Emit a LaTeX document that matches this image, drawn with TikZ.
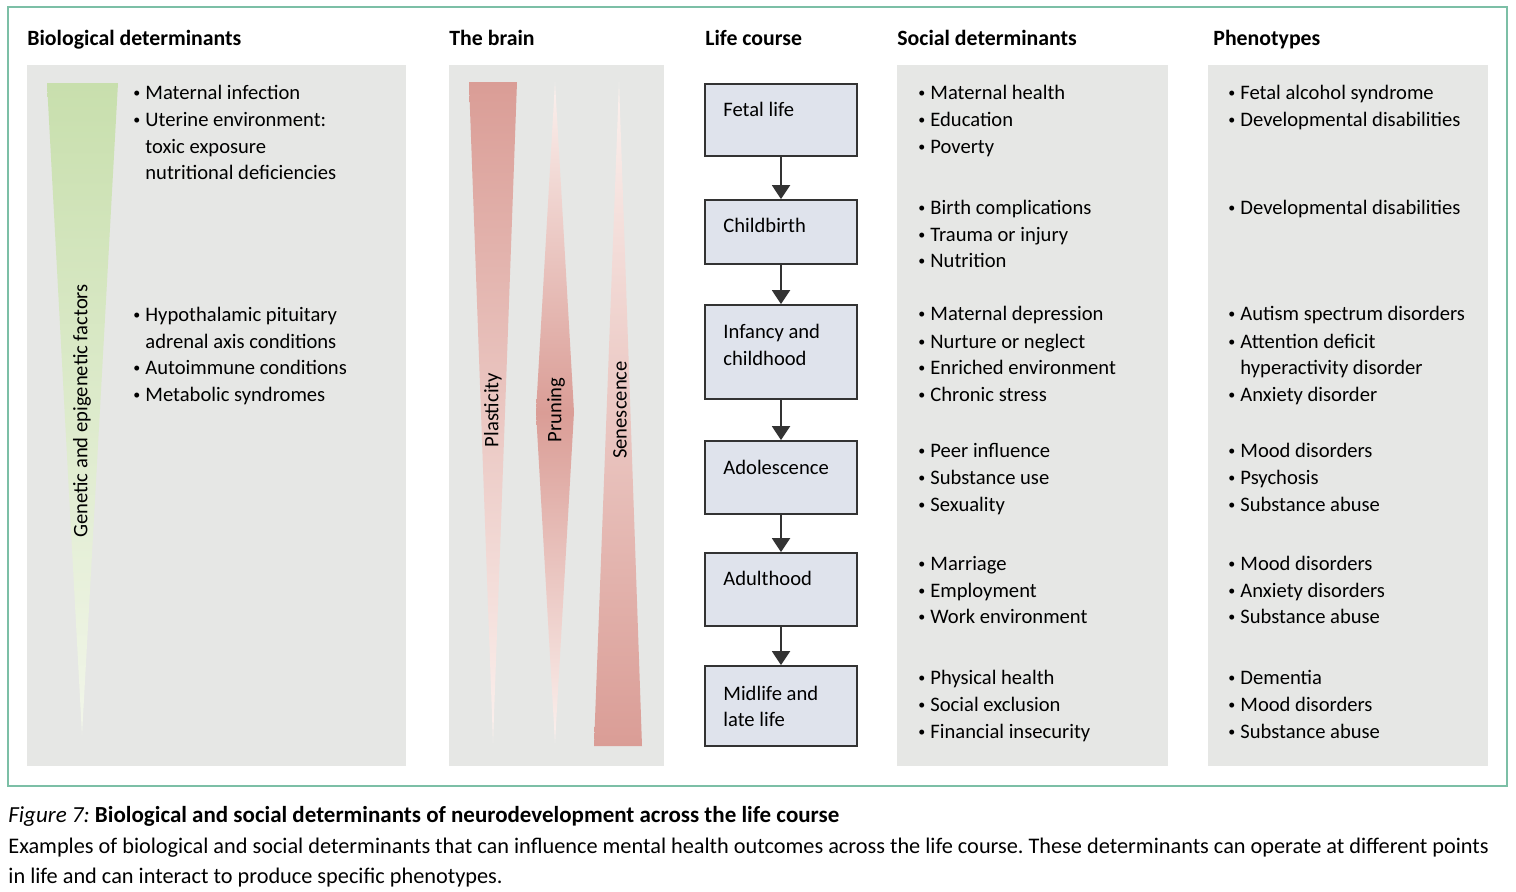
\documentclass[tikz,border=0pt]{standalone}
\usepackage{fontspec}
\setmainfont{Carlito}
\usetikzlibrary{arrows.meta, positioning}
\definecolor{framegreen}{HTML}{7CBFA6}
\definecolor{panelgray}{HTML}{E6E7E5}
\definecolor{boxblue}{HTML}{DFE3EC}
\definecolor{boxedge}{HTML}{333333}
\definecolor{brainred}{HTML}{DA9D96}
\definecolor{brainpale}{HTML}{FBF1EE}
\definecolor{genegreen}{HTML}{C8DFAD}
\definecolor{genepale}{HTML}{F2F6EA}
\newcommand{\bul}{\makebox[0pt][r]{\raisebox{0.6pt}{\fontsize{7}{7}\selectfont\textbullet}\hspace{2.5pt}}}
\frenchspacing
\tikzset{
  lifebox/.style={rectangle, draw=boxedge, fill=boxblue, line width=0.9pt, minimum width=76pt, inner sep=0pt},
  item/.style={anchor=base west, inner sep=0pt, font=\fontsize{10.3}{13}\selectfont},
  head/.style={anchor=base west, inner sep=0pt, font=\fontsize{10.9}{13}\selectfont\bfseries},
  sidelabel/.style={rotate=90, inner sep=0pt, font=\fontsize{10.3}{13}\selectfont},
  flow/.style={-{Triangle[width=9pt,length=7pt]}, line width=1pt, draw=boxedge},
  captxt/.style={anchor=base west, inner sep=0pt, font=\fontsize{11.15}{13}\selectfont},
}

\begin{document}
\begin{tikzpicture}[x=0.5pt, y=-0.5pt]
\useasboundingbox (0,0) rectangle (1516,891);

% Outer frame
\draw[framegreen, line width=1pt] (7.5,6.5) rectangle (1507,785.5);

% Grey panels
\fill[panelgray] (27,65) rectangle (406,766);
\fill[panelgray] (449,65) rectangle (664,766);
\fill[panelgray] (897,65) rectangle (1168,766);
\fill[panelgray] (1208,65) rectangle (1488,766);

% Column headings
\node[head] (hbio) at (27,45) {Biological determinants};
\node[head] (hbrain) at (449,45) {The brain};
\node[head] (hlife) at (705,45) {Life course};
\node[head] (hsoc) at (897,45) {Social determinants};
\node[head] (hpheno) at (1213,45) {Phenotypes};

% Genetic wedge
\shade[top color=genegreen, bottom color=genepale] (47,83) -- (118,83) -- (82,735) -- cycle;
\node[sidelabel] (genetic) at (82,411) {Genetic and epigenetic factors};

% Biological determinants
\foreach \y/\t [count=\i] in {99/\bul Maternal infection, 126/\bul Uterine environment:, 153/toxic exposure, 179/nutritional deficiencies,
  321/\bul Hypothalamic pituitary, 348/adrenal axis conditions, 374/\bul Autoimmune conditions, 401/\bul Metabolic syndromes}
  \node[item] (bio\i) at (145,\y) {\t};

% Brain wedges
\shade[top color=brainred, bottom color=brainpale] (469,82) -- (517,82) -- (493,743) -- cycle;
\shade[top color=brainpale, bottom color=brainpale, middle color=brainred] (555,82) -- (574,412) -- (555,743) -- (536,412) -- cycle;
\shade[top color=brainpale, bottom color=brainred] (619,82) -- (642,746) -- (594,746) -- cycle;
\node[sidelabel] (plast) at (493,410) {Plasticity};
\node[sidelabel] (prune) at (556,410) {Pruning};
\node[sidelabel] (senes) at (620,410) {Senescence};

% Life course boxes
\node[lifebox, minimum height=36pt] (fetal) at (781,120) {};
\node[lifebox, minimum height=32pt] (birth) at (781,232) {};
\node[lifebox, minimum height=47pt] (infancy) at (781,352) {};
\node[lifebox, minimum height=36.5pt] (adol) at (781,477.5) {};
\node[lifebox, minimum height=36.5pt] (adult) at (781,589.5) {};
\node[lifebox, minimum height=40pt] (midlife) at (781,706) {};
\node[item] (tfetal) at (723,116) {Fetal life};
\node[item] (tbirth) at (723,232) {Childbirth};
\node[item] (tinf) at (723,338) {Infancy and};
\node[item] (tinf2) at (723,365) {childhood};
\node[item] (tadol) at (723,474) {Adolescence};
\node[item] (tadult) at (723,585) {Adulthood};
\node[item] (tmid) at (723,700) {Midlife and};
\node[item] (tmid2) at (723,726) {late life};
\draw[flow] (fetal) -- (birth);
\draw[flow] (birth) -- (infancy);
\draw[flow] (infancy) -- (adol);
\draw[flow] (adol) -- (adult);
\draw[flow] (adult) -- (midlife);

% Social determinants
\foreach \y/\t [count=\i] in {99/Maternal health, 126/Education, 153/Poverty,
  214/Birth complications, 241/Trauma or injury, 267/Nutrition,
  320/Maternal depression, 348/Nurture or neglect, 374/Enriched environment, 401/Chronic stress,
  457/Peer influence, 484/Substance use, 511/Sexuality,
  570/Marriage, 597/Employment, 623/Work environment,
  684/Physical health, 711/Social exclusion, 738/Financial insecurity}
  \node[item] (soc\i) at (930,\y) {\bul \t};

% Phenotypes
\foreach \y/\t [count=\i] in {99/\bul Fetal alcohol syndrome, 126/\bul Developmental disabilities,
  214/\bul Developmental disabilities,
  320/\bul Autism spectrum disorders, 348/\bul Attention deficit, 374/hyperactivity disorder, 401/\bul Anxiety disorder,
  457/\bul Mood disorders, 484/\bul Psychosis, 511/\bul Substance abuse,
  570/\bul Mood disorders, 597/\bul Anxiety disorders, 623/\bul Substance abuse,
  684/\bul Dementia, 711/\bul Mood disorders, 738/\bul Substance abuse}
  \node[item] (phe\i) at (1240,\y) {\t};

% Caption
\node[captxt, font=\fontsize{11.5}{13}\selectfont] (cap1) at (8,822) {\textit{Figure 7:} \textbf{Biological and social determinants of neurodevelopment across the life course}};
\node[captxt] (cap2) at (8,853) {Examples of biological and social determinants that can influence mental health outcomes across the life course. These determinants can operate at different points};
\node[captxt] (cap3) at (8,883) {in life and can interact to produce specific phenotypes.};
\end{tikzpicture}
\end{document}
